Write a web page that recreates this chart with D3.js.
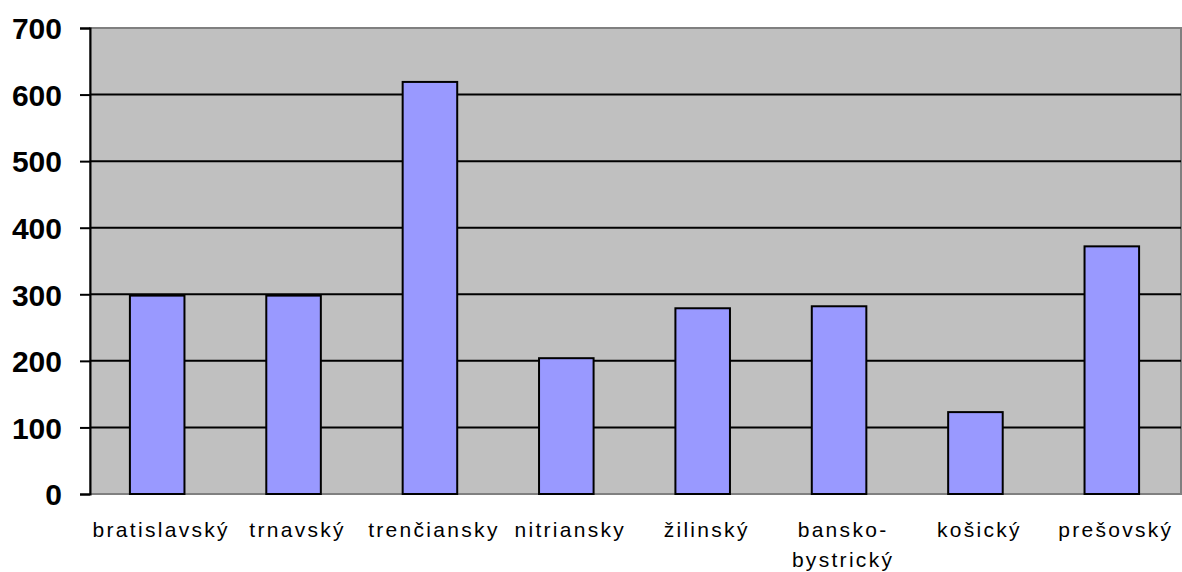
<!DOCTYPE html>
<html>
<head>
<meta charset="utf-8">
<script src="https://cdn.jsdelivr.net/npm/d3@7"></script>
<style>
html,body{margin:0;padding:0;background:#fff;}
svg{display:block;}
</style>
</head>
<body>
<svg id="chart" width="1182" height="572"></svg>
<script>
const categories = [["bratislavský"],["trnavský"],["trenčiansky"],["nitriansky"],["žilinský"],["bansko-","bystrický"],["košický"],["prešovský"]];
const values = [298, 298, 619, 204, 279, 282, 123, 372];
const yTicks = [0, 100, 200, 300, 400, 500, 600, 700];

const svg = d3.select("#chart");
const m = {left: 90, right: 1181, top: 28, bottom: 494};
const keys = categories.map((c, i) => i);

const x = d3.scaleBand().domain(keys).range([m.left, m.right]).paddingInner(0.6).paddingOuter(0.3);
const y = d3.scaleLinear().domain([0, 700]).range([m.bottom, m.top]);

// plot background
svg.append("rect").attr("x", m.left).attr("y", m.top)
  .attr("width", m.right - m.left).attr("height", m.bottom - m.top)
  .attr("fill", "#C0C0C0").attr("stroke", "#808080").attr("stroke-width", 2);

// gridlines
svg.append("g").selectAll("line").data(yTicks.filter(d => d > 0 && d < 700)).join("line")
  .attr("x1", m.left).attr("x2", m.right)
  .attr("y1", d => y(d)).attr("y2", d => y(d))
  .attr("stroke", "#000").attr("stroke-width", 2);

// bars
svg.append("g").selectAll("rect").data(values).join("rect")
  .attr("x", (d, i) => x(i) - 1).attr("width", x.bandwidth())
  .attr("y", d => y(d)).attr("height", d => y(0) - y(d))
  .attr("fill", "#9999FF").attr("stroke", "#000").attr("stroke-width", 2);

// y axis
const yAxis = d3.axisLeft(y).tickValues(yTicks).tickSize(10).tickPadding(18).tickFormat(d3.format("d"));
const gy = svg.append("g").attr("transform", `translate(${m.left},0)`).call(yAxis);
gy.select(".domain").attr("stroke", "#000").attr("stroke-width", 2);
gy.selectAll(".tick line").attr("stroke", "#000").attr("stroke-width", 2);
gy.selectAll(".tick text").attr("font-family", "Liberation Sans, Arial, sans-serif")
  .attr("font-weight", "bold").attr("font-size", 30).attr("fill", "#000").attr("dy", "0.36em");

// x labels
const gx = svg.append("g");
gx.selectAll("text").data(categories).join("text")
  .attr("x", (d, i) => x(i) + x.bandwidth() / 2 + 3)
  .attr("y", 537)
  .attr("text-anchor", "middle")
  .attr("font-family", "Liberation Sans, Arial, sans-serif")
  .attr("font-size", 21)
  .attr("letter-spacing", "2.3px")
  .attr("fill", "#000")
  .each(function(d) {
    const t = d3.select(this);
    d.forEach((line, j) => {
      t.append("tspan").attr("x", t.attr("x")).attr("dy", j === 0 ? 0 : 30).text(line);
    });
  });
</script>
</body>
</html>
